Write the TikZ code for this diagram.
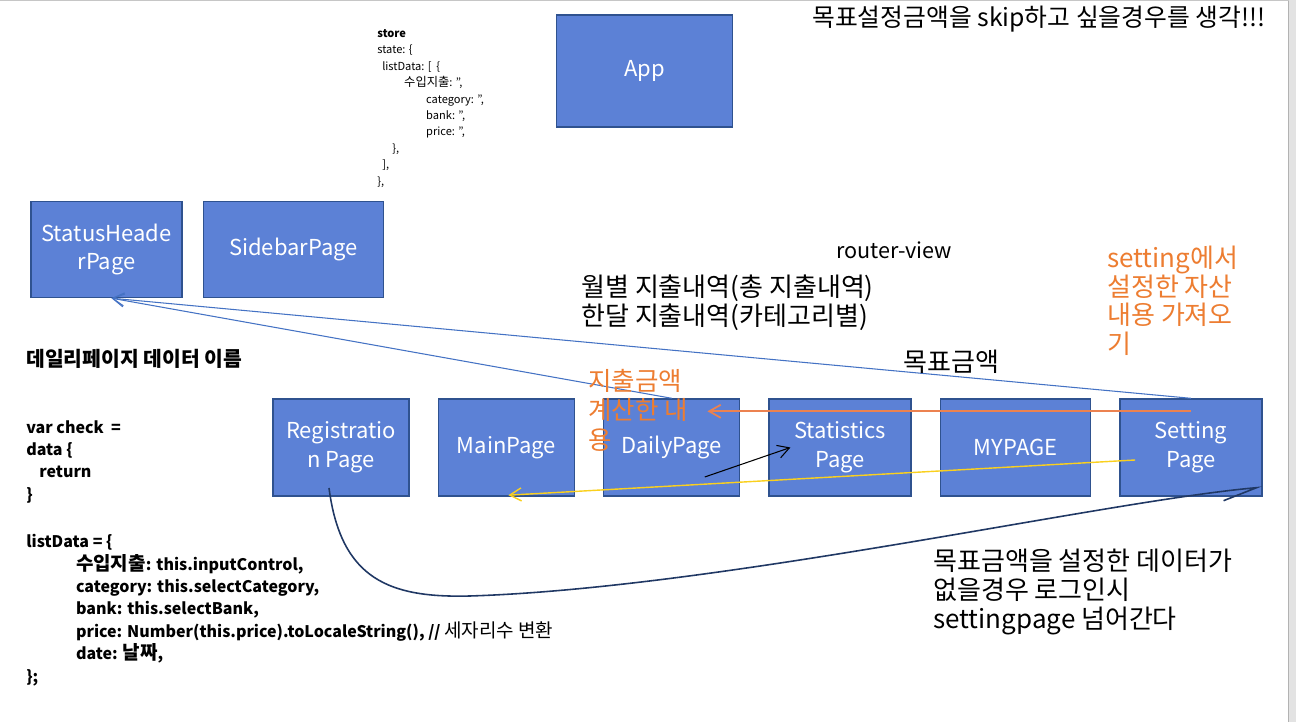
\documentclass[tikz,border=0pt]{standalone}
\usepackage{fontspec}
\setmainfont{Noto Sans CJK KR}
\usepackage{tikz}
\usetikzlibrary{arrows.meta, positioning, calc}
\usepackage{xcolor}

\definecolor{pagefill}{RGB}{92,129,214}
\definecolor{pageedge}{RGB}{47,82,143}
\definecolor{linkblue}{RGB}{68,114,196}
\definecolor{noteorange}{RGB}{237,125,49}
\definecolor{lineorange}{RGB}{236,130,80}
\definecolor{lineyellow}{RGB}{250,208,30}
\definecolor{curvenavy}{RGB}{32,56,100}
\newcommand{\hangulsize}{\fontsize{10.8}{12.75}\selectfont}

\begin{document}
\begin{tikzpicture}[
  x=0.02cm, y=-0.02cm,
  node distance=0.56cm,
  page/.style={rectangle, draw=pageedge, line width=0.8pt, fill=pagefill, text=white, minimum width=2.72cm, minimum height=1.94cm, align=center, inner sep=0pt, font=\fontsize{12.5}{16.4}\selectfont},
  note/.style={inner sep=0pt, align=left, font=\fontsize{14.8}{16.4}\selectfont},
  code/.style={inner sep=0pt, align=left, anchor=north west, font=\bfseries\fontsize{9.1}{12.75}\selectfont},
  arrow/.style={-{Straight Barb[length=2.3mm, width=2.6mm]}, line width=0.6pt}
]
  % Sheet
  \useasboundingbox (0,0) rectangle (1296,722);
  \fill[white] (0,0) rectangle (1296,722);
  \fill[gray!22] (1289,0) rectangle (1296,722);
  \draw[gray!60] (1288.5,0) -- (1288.5,722);
  \draw[gray!45] (0,0.5) -- (1288.5,0.5);

  % Components - top
  \node[page, minimum width=3.52cm, minimum height=2.24cm] (app) at (644.5,71) {App};
  \node[page, minimum width=3.02cm, minimum height=1.92cm] (status) at (106.5,249.5) {StatusHeade\\rPage};
  \node[page, minimum width=3.6cm, minimum height=1.92cm, right=0.4cm of status] (sidebar) {SidebarPage};

  % Components - router-view row
  \node[page] (reg) at (341,447.5) {Registratio\\n Page};
  \node[page, right=of reg] (main) {MainPage};
  \node[page, right=of main] (daily) {DailyPage};
  \node[page, minimum width=2.84cm, right=of daily] (stats) {Statistics\\Page};
  \node[page, minimum width=3cm, right=of stats] (mypage) {MYPAGE};
  \node[page, minimum width=2.84cm, right=of mypage] (setting) {Setting\\Page};

  % Connections
  \draw[arrow, linkblue] (setting.north) -- ([xshift=0.1cm]status.south);
  \draw[arrow, linkblue] (daily.north) -- ([xshift=0.1cm]status.south);

  \coordinate (sumend) at ($(daily.north east)+(-33,13)$);
  \draw[arrow, lineorange, line width=1pt] ($(setting.north)+(0,13)$) -- (sumend);
  \draw[arrow, lineyellow, line width=0.8pt] ($(setting.west)+(16,12.5)$) -- ($(main.south)+(2,-1.5)$);
  \draw[arrow, black] ($(daily.center)+(33,29.5)$) -- ($(stats.west)+(22,0)$);

  % Login redirect curve
  \coordinate (loopend) at ($(setting.south east)+(-6,-9)$);
  \draw[curvenavy, line width=0.9pt] ($(reg.center)+(-12,40.5)$) .. controls +(12,92) and +(-80,2) .. (470,596)
    .. controls +(250,-8) and +(-150,13) .. (loopend) -- +(-33,13);

  % Store state
  \node[inner sep=0pt, anchor=north west, align=left, font=\fontsize{6.3}{9.35}\selectfont] (store) at (377,29) {%
    \textbf{store}\\
    state: \{\\
    \hspace*{2.8pt}listData: [ \ \{\\
    \hspace*{15.3pt}{\fontsize{7}{9.35}\selectfont 수입지출}: '',\\
    \hspace*{27.8pt}category: '',\\
    \hspace*{27.8pt}bank: '',\\
    \hspace*{27.8pt}price: '',\\
    \hspace*{8.5pt}\},\\
    \hspace*{2.8pt}],\\
    \},};

  % Notes
  \node[note, anchor=west, font=\fontsize{14.1}{16.4}\selectfont] (goal) at (812,19) {목표설정금액을 skip하고 싶을경우를 생각!!!};
  \node[inner sep=0pt, anchor=west, font=\fontsize{12.3}{14}\selectfont] (router) at (836,250) {router-view};
  \node[note, anchor=north west] (monthly) at (581,275) {월별 지출내역(총 지출내역)\\한달 지출내역(카테고리별)};
  \node[note, anchor=west] (target) at (903,362) {목표금액};
  \node[note, anchor=north west, text=noteorange, font=\fontsize{14.8}{16.2}\selectfont] (fetch) at (1107,246) {setting에서\\설정한 자산\\내용 가져오\\기};
  \node[note, anchor=north west, text=noteorange, font=\fontsize{14.5}{16.7}\selectfont] (sum) at (588,369) {지출금액\\계산한 내\\용};
  \node[note, anchor=north west] (redirect) at (933,549) {목표금액을 설정한 데이터가\\없을경우 로그인시\\settingpage 넘어간다};

  % Daily page data
  \node[inner sep=0pt, anchor=west, font=\bfseries\fontsize{11.6}{12.75}\selectfont] (datahead) at (26,359) {데일리페이지 데이터 이름};
  \node[code] (check) at (26,420) {var check \ =\\data \{\\\hspace*{7.4pt}return\\\}};
  \node[code] (listdata) at (26,534) {%
    listData = \{\\
    \hspace*{28.3pt}{\hangulsize 수입지출}: this.inputControl,\\
    \hspace*{28.3pt}category: this.selectCategory,\\
    \hspace*{28.3pt}bank: this.selectBank,\\
    \hspace*{28.3pt}price: Number(this.price).toLocaleString(), // {\hangulsize\mdseries 세자리수 변환}\\
    \hspace*{28.3pt}date: {\hangulsize 날짜},\\
    \};};
\end{tikzpicture}
\end{document}
